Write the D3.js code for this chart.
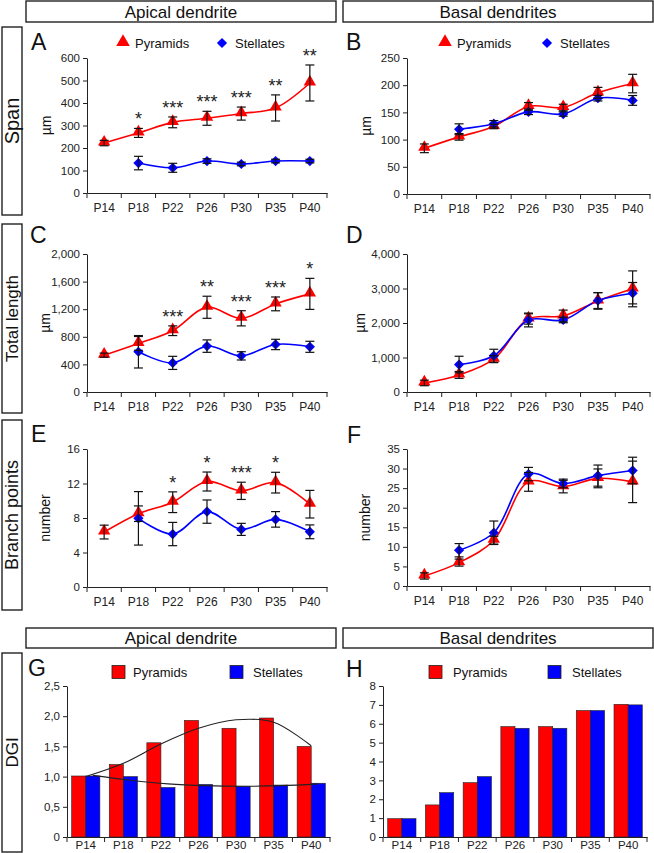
<!DOCTYPE html>
<html>
<head>
<meta charset="utf-8">
<script src="https://cdn.jsdelivr.net/npm/d3@7"></script>
<style>
  body { margin: 0; background: #fff; }
  svg { display: block; font-family: "Liberation Sans", Arial, sans-serif; }
  .axis path, .axis line { stroke: #222; stroke-width: 1; }
  .axis text { font-size: 11.5px; fill: #222; }
</style>
</head>
<body>
<div id="chart"></div>
<script>
// DATA //
var categories = ["P14", "P18", "P22", "P26", "P30", "P35", "P40"];

// span (um)
var spanApicalPyr = [222, 267, 314, 332, 353, 378, 489];
var spanApicalPyrErr = [12, 20, 24, 31, 29, 58, 80];
var spanApicalStel = [null, 133, 112, 142, 129, 142, 142];
var spanApicalStelErr = [null, 30, 20, 10, 8, 8, 8];
var spanApicalStars = ["", "*", "***", "***", "***", "**", "**"];

var spanBasalPyr = [84, 105, 124, 161, 159, 186, 203];
var spanBasalPyrErr = [8, 6, 4, 7, 6, 10, 17];
var spanBasalStel = [null, 119, 129, 151, 147, 176, 172];
var spanBasalStelErr = [null, 10, 6, 5, 4, 5, 9];

// total length (um)
var lengthApicalPyr = [534, 704, 888, 1228, 1068, 1277, 1422];
var lengthApicalPyrErr = [30, 100, 70, 160, 110, 100, 225];
var lengthApicalStel = [null, 583, 422, 665, 524, 689, 655];
var lengthApicalStelErr = [null, 235, 95, 90, 60, 75, 80];
var lengthApicalStars = ["", "", "***", "**", "***", "***", "*"];

var lengthBasalPyr = [262, 495, 951, 2117, 2204, 2640, 2990];
var lengthBasalPyrErr = [80, 100, 100, 150, 170, 240, 520];
var lengthBasalStel = [null, 796, 1049, 2087, 2087, 2650, 2864];
var lengthBasalStelErr = [null, 240, 190, 200, 80, 230, 310];

// branch points (number)
var branchApicalPyr = [6.37, 8.5, 9.83, 12.23, 11.15, 12.1, 9.6];
var branchApicalPyrErr = [0.8, 0.9, 1.2, 1.1, 1.0, 1.2, 1.6];
var branchApicalStel = [null, 7.96, 6.14, 8.74, 6.68, 7.84, 6.4];
var branchApicalStelErr = [null, 3.1, 1.35, 1.35, 0.7, 0.9, 0.8];
var branchApicalStars = ["", "", "*", "*", "***", "*", ""];

var branchBasalPyr = [2.56, 5.98, 11.7, 26.6, 25.4, 27.5, 26.6];
var branchBasalPyrErr = [0.8, 0.9, 1.0, 2.4, 1.6, 2.4, 5.3];
var branchBasalStel = [null, 9.14, 13.6, 28.6, 26.2, 28.2, 29.5];
var branchBasalStelErr = [null, 1.7, 3.0, 1.7, 1.1, 2.7, 3.4];

// DGI
var dgiApicalPyr = [1.01, 1.2, 1.56, 1.93, 1.8, 1.97, 1.5];
var dgiApicalStel = [1.01, 1.0, 0.82, 0.87, 0.84, 0.86, 0.89];
var dgiApicalPyrTrend = [1.0, 1.22, 1.54, 1.8, 1.94, 1.9, 1.51];
var dgiApicalStelTrend = [1.02, 0.94, 0.88, 0.85, 0.84, 0.85, 0.88];
var dgiBasalPyr = [0.97, 1.7, 2.88, 5.85, 5.85, 6.7, 7.03];
var dgiBasalStel = [0.97, 2.35, 3.2, 5.76, 5.76, 6.7, 7.0];

var dgiApicalTicks = [0, 0.5, 1, 1.5, 2, 2.5];
var dgiApicalTickLabels = ["0", "0,5", "1,0", "1,5", "2,0", "2,5"];

var RED = "#ff0000", BLUE = "#0000ff";

var svg = d3.select("#chart").append("svg")
  .attr("width", 654)
  .attr("height", 853);

// HEADER BOXES AND ROW LABELS //
function box(x, y, w, h) {
  svg.append("rect").attr("x", x).attr("y", y).attr("width", w).attr("height", h)
    .attr("fill", "none").attr("stroke", "#222").attr("stroke-width", 1.4);
}
function header(x, y, w, h, label) {
  box(x, y, w, h);
  svg.append("text").attr("x", x + w / 2).attr("y", y + h / 2).attr("dy", "0.36em")
    .attr("text-anchor", "middle").style("font-size", "17px").style("fill", "#111")
    .text(label);
}
function rowLabel(y, h, label, size) {
  box(2, y, 20, h);
  svg.append("text")
    .attr("transform", "translate(" + 12 + "," + (y + h / 2) + ") rotate(-90)")
    .attr("dy", "0.36em").attr("text-anchor", "middle")
    .style("font-size", size + "px").style("fill", "#111")
    .text(label);
}

header(26, 1, 310, 21, "Apical dendrite");
header(343, 1, 310, 21, "Basal dendrites");
header(26, 628, 310, 20, "Apical dendrite");
header(343, 628, 310, 20, "Basal dendrites");

rowLabel(27, 188, "Span", 20);
rowLabel(224, 189, "Total length", 17);
rowLabel(420, 190, "Branch points", 18);
rowLabel(653, 199, "DGI", 17);

function letter(x, y, t) {
  svg.append("text").attr("x", x).attr("y", y)
    .style("font-size", "23px").style("fill", "#111").text(t);
}

// shared x axis with ticks at category boundaries
function xAxis(g, x, y0, pad, size) {
  var ax = g.append("g").attr("class", "axis")
    .attr("transform", "translate(0," + y0 + ")")
    .call(d3.axisBottom(x).tickSize(0).tickSizeOuter(0).tickPadding(pad));
  ax.selectAll("text").style("font-size", size + "px");
  var r = x.range();
  var bounds = d3.range(categories.length + 1).map(function (i) { return r[0] + i * x.step(); });
  ax.selectAll(".bound").data(bounds).enter().append("line")
    .attr("class", "bound")
    .attr("x1", function (d) { return d; }).attr("x2", function (d) { return d; })
    .attr("y1", 0).attr("y2", 5);
}

// LINE PANELS //
function linePanel(o) {
  var g = svg.append("g");
  var x = d3.scaleBand().domain(categories).range(o.xr).padding(0);
  var y = d3.scaleLinear().domain([0, o.max]).range(o.yr);
  var cx = function (i) { return x(categories[i]) + x.bandwidth() / 2; };

  g.append("g").attr("class", "axis")
    .attr("transform", "translate(" + o.xr[0] + ",0)")
    .call(d3.axisLeft(y).tickValues(o.ticks).tickSize(4).tickSizeOuter(0).tickPadding(3)
      .tickFormat(d3.format(",")));
  xAxis(g, x, o.yr[0], 10, 12);

  // unit label
  g.append("text")
    .attr("transform", "translate(" + o.unitX + "," + ((o.yr[0] + o.yr[1]) / 2) + ") rotate(-90)")
    .attr("text-anchor", "middle").attr("dy", "0.36em")
    .style("font-size", "14px").style("fill", "#111").text(o.unit);

  var line = d3.line()
    .defined(function (d) { return d != null; })
    .x(function (d, i) { return cx(i); })
    .y(function (d) { return y(d); })
    .curve(d3.curveCatmullRom.alpha(0.5));

  var series = [
    { vals: o.pyr, err: o.pyrErr, color: RED, shape: "tri" },
    { vals: o.stel, err: o.stelErr, color: BLUE, shape: "dia" }
  ];

  series.forEach(function (s) {
    g.append("path").datum(s.vals).attr("d", line)
      .attr("fill", "none").attr("stroke", s.color).attr("stroke-width", 1.6);
  });

  series.forEach(function (s) {
    var sym = s.shape === "tri"
      ? d3.symbol().type(d3.symbolTriangle).size(66)
      : d3.symbol().type(d3.symbolSquare).size(52);
    s.vals.forEach(function (v, i) {
      if (v == null) return;
      g.append("path").attr("d", sym())
        .attr("transform", "translate(" + cx(i) + "," + y(v) + ")" + (s.shape === "dia" ? " rotate(45)" : " translate(0,-1)"))
        .attr("fill", s.color);
    });
  });

  // error bars
  series.forEach(function (s) {
    s.vals.forEach(function (v, i) {
      if (v == null) return;
      var e = s.err[i], xc = cx(i);
      var eg = g.append("g").attr("stroke", "#111").attr("stroke-width", 1.2);
      eg.append("line").attr("x1", xc).attr("x2", xc).attr("y1", y(v - e)).attr("y2", y(v + e));
      [v - e, v + e].forEach(function (w) {
        eg.append("line").attr("x1", xc - 4.5).attr("x2", xc + 4.5).attr("y1", y(w)).attr("y2", y(w));
      });
    });
  });

  if (o.stars) {
    o.stars.forEach(function (st, i) {
      if (!st) return;
      var top = Math.max(o.pyr[i] + o.pyrErr[i], o.stel[i] != null ? o.stel[i] + o.stelErr[i] : 0);
      g.append("text").attr("x", cx(i)).attr("y", y(top) - 3)
        .attr("text-anchor", "middle").style("font-size", "18px").style("fill", "#222")
        .text(st);
    });
  }

  if (o.legend) {
    var lg = g.append("g");
    lg.append("path").attr("d", d3.symbol().type(d3.symbolTriangle).size(80)())
      .attr("transform", "translate(" + o.legend[0] + "," + (o.legend[1] - 1) + ")").attr("fill", RED);
    lg.append("text").attr("x", o.legend[0] + 12).attr("y", o.legend[1] + 5)
      .style("font-size", "13px").style("fill", "#111").text("Pyramids");
    lg.append("path").attr("d", d3.symbol().type(d3.symbolSquare).size(52)())
      .attr("transform", "translate(" + o.legend[2] + "," + o.legend[1] + ") rotate(45)").attr("fill", BLUE);
    lg.append("text").attr("x", o.legend[2] + 13).attr("y", o.legend[1] + 5)
      .style("font-size", "13px").style("fill", "#111").text("Stellates");
  }
}

linePanel({ xr: [87, 327], yr: [193, 58], max: 600, ticks: d3.range(0, 601, 100),
  pyr: spanApicalPyr, pyrErr: spanApicalPyrErr, stel: spanApicalStel, stelErr: spanApicalStelErr,
  stars: spanApicalStars, unit: "µm", unitX: 46, legend: [123, 43, 222] });
linePanel({ xr: [407, 650], yr: [194, 58], max: 250, ticks: d3.range(0, 251, 50),
  pyr: spanBasalPyr, pyrErr: spanBasalPyrErr, stel: spanBasalStel, stelErr: spanBasalStelErr,
  unit: "µm", unitX: 366, legend: [445, 43, 547] });
linePanel({ xr: [87, 327], yr: [392, 254], max: 2000, ticks: d3.range(0, 2001, 400),
  pyr: lengthApicalPyr, pyrErr: lengthApicalPyrErr, stel: lengthApicalStel, stelErr: lengthApicalStelErr,
  stars: lengthApicalStars, unit: "µm", unitX: 45 });
linePanel({ xr: [407, 650], yr: [392, 254], max: 4000, ticks: d3.range(0, 4001, 1000),
  pyr: lengthBasalPyr, pyrErr: lengthBasalPyrErr, stel: lengthBasalStel, stelErr: lengthBasalStelErr,
  unit: "µm", unitX: 360 });
linePanel({ xr: [87, 327], yr: [587, 449], max: 16, ticks: d3.range(0, 17, 4),
  pyr: branchApicalPyr, pyrErr: branchApicalPyrErr, stel: branchApicalStel, stelErr: branchApicalStelErr,
  stars: branchApicalStars, unit: "number", unitX: 45 });
linePanel({ xr: [407, 650], yr: [586, 449], max: 35, ticks: d3.range(0, 36, 5),
  pyr: branchBasalPyr, pyrErr: branchBasalPyrErr, stel: branchBasalStel, stelErr: branchBasalStelErr,
  unit: "number", unitX: 365 });

// BAR PANELS //
function barPanel(o) {
  var g = svg.append("g");
  var x = d3.scaleBand().domain(categories).range(o.xr).paddingInner(0.25).paddingOuter(0.125);
  var xs = d3.scaleBand().domain(["pyr", "stel"]).range([0, x.bandwidth()]);
  var y = d3.scaleLinear().domain([0, o.max]).range(o.yr);

  var series = [{ key: "pyr", vals: o.pyr, color: RED }, { key: "stel", vals: o.stel, color: BLUE }];
  series.forEach(function (s) {
    g.selectAll(".bar-" + s.key).data(s.vals).enter().append("rect")
      .attr("x", function (d, i) { return x(categories[i]) + xs(s.key); })
      .attr("y", function (d) { return y(d); })
      .attr("width", xs.bandwidth())
      .attr("height", function (d) { return y(0) - y(d); })
      .attr("fill", s.color).attr("stroke", "#222").attr("stroke-width", 0.6);
  });

  if (o.trends) {
    var tl = d3.line().curve(d3.curveCatmullRom.alpha(0.5));
    o.trends.forEach(function (t) {
      var pts = t.vals.map(function (v, i) {
        return [x(categories[i]) + (t.key === "pyr" ? x.bandwidth() / 2 : xs(t.key) + xs.bandwidth() / 2), y(v)];
      });
      g.append("path").attr("d", tl(pts)).attr("fill", "none")
        .attr("stroke", "#222").attr("stroke-width", 1.1);
    });
  }

  g.append("g").attr("class", "axis")
    .attr("transform", "translate(" + o.xr[0] + ",0)")
    .call(d3.axisLeft(y).tickValues(o.ticks).tickSize(4).tickSizeOuter(0).tickPadding(3)
      .tickFormat(function (d, i) { return o.tickLabels ? o.tickLabels[i] : d; }));

  var xl = d3.scaleBand().domain(categories).range(o.xr).padding(0);
  xAxis(g, xl, o.yr[0], 4, 11.5);

  var lg = g.append("g");
  [[o.legend[0], RED, "Pyramids", o.legend[1]], [o.legend[2], BLUE, "Stellates", o.legend[3]]].forEach(function (l) {
    lg.append("rect").attr("x", l[0]).attr("y", o.legendY - 6.5).attr("width", 13).attr("height", 13)
      .attr("fill", l[1]).attr("stroke", "#222").attr("stroke-width", 0.8);
    lg.append("text").attr("x", l[3]).attr("y", o.legendY + 5)
      .style("font-size", "13px").style("fill", "#111").text(l[2]);
  });
}

barPanel({ xr: [67, 330], yr: [837, 686], max: 2.5, ticks: dgiApicalTicks, tickLabels: dgiApicalTickLabels,
  pyr: dgiApicalPyr, stel: dgiApicalStel,
  trends: [{ key: "pyr", vals: dgiApicalPyrTrend }, { key: "stel", vals: dgiApicalStelTrend }],
  legend: [112, 133, 230, 253], legendY: 672 });
barPanel({ xr: [383, 647], yr: [837, 686], max: 8, ticks: d3.range(0, 9, 1),
  pyr: dgiBasalPyr, stel: dgiBasalStel,
  legend: [429, 453, 548, 572], legendY: 672 });

letter(31, 50, "A");
letter(346, 50, "B");
letter(30, 243, "C");
letter(346, 243, "D");
letter(31, 442, "E");
letter(347, 443, "F");
letter(28, 676, "G");
letter(346, 677, "H");
</script>
</body>
</html>
